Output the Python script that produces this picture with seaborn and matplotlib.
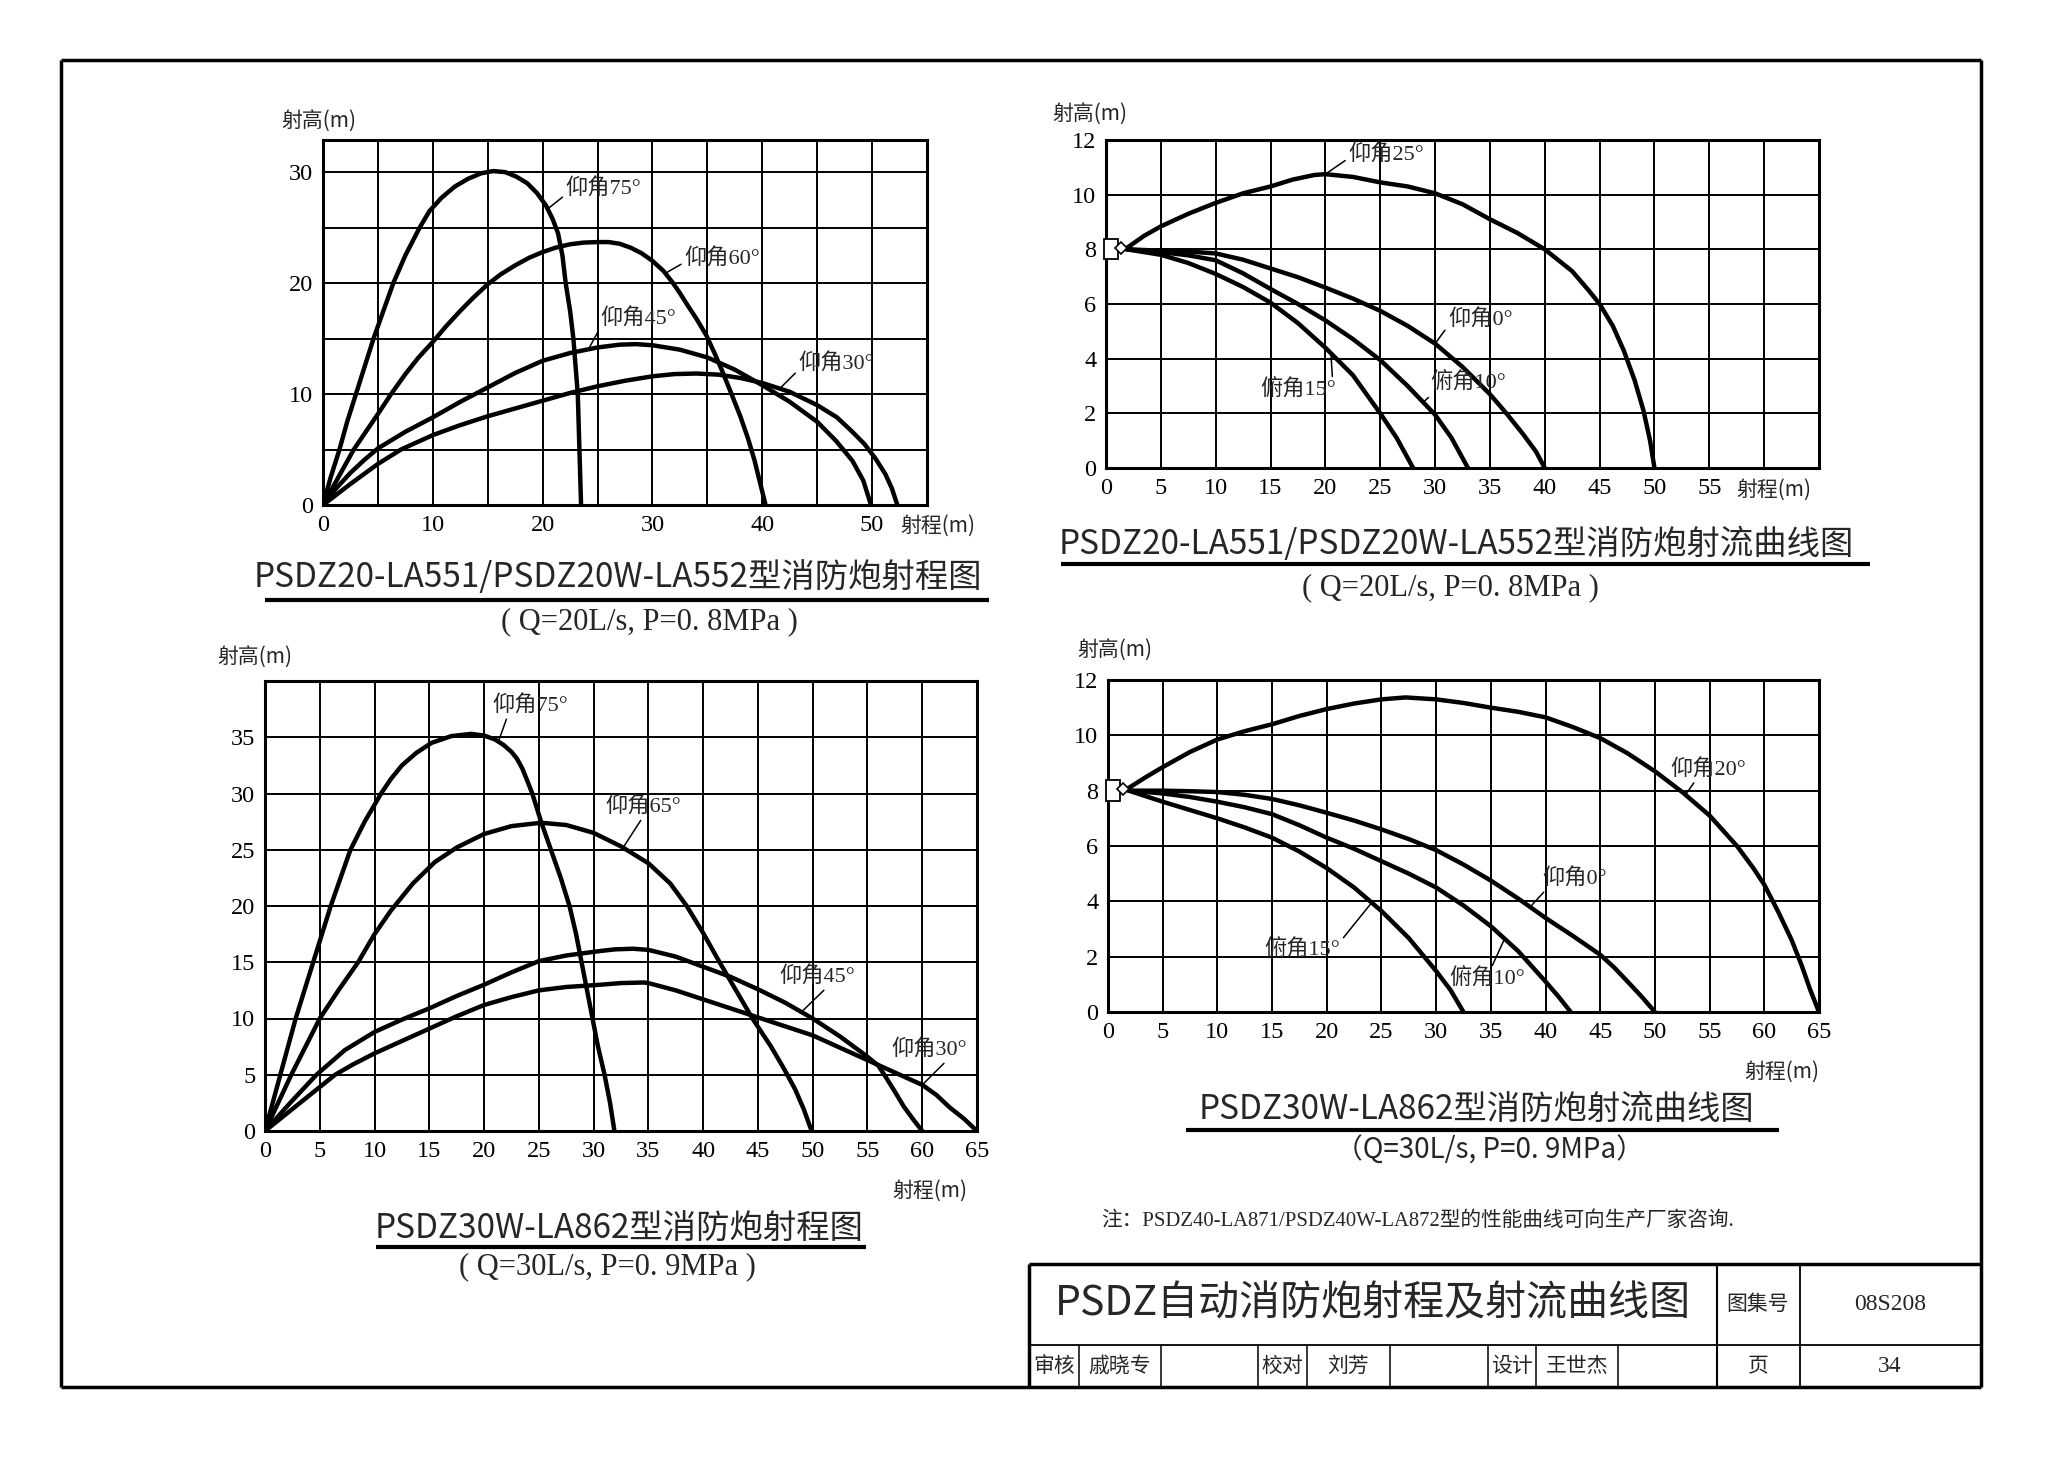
import pandas as pd
import matplotlib
matplotlib.use("Agg")
import matplotlib.pyplot as plt
import seaborn as sns
from matplotlib.lines import Line2D
from matplotlib.patches import Rectangle

# ---------------- values ----------------
# top left: PSDZ20 range chart (射程 x, 射高 y)
tl_names = ["仰角75°", "仰角60°", "仰角45°", "仰角30°"]
tl_75_x = [0, 0.7, 1.5, 2.2, 3.0, 3.8, 4.6, 5.5, 6.4, 7.5, 8.8, 9.7, 10.8, 12.0, 13.2, 14.4, 15.5, 16.6,
           17.6, 18.6, 19.5, 20.3, 20.9, 21.4, 21.8, 22.1, 22.5, 22.8, 23.0, 23.2, 23.35, 23.5]
tl_75_y = [0, 2.5, 5, 7.5, 10, 12.5, 15, 17.5, 20, 22.5, 25, 26.5, 27.7, 28.7, 29.4, 29.9, 30.1, 30.0,
           29.6, 29.0, 28.1, 27.0, 25.8, 24.5, 22.5, 20, 17.5, 15, 12.5, 10, 5, 0]
tl_60_x = [0, 1.4, 2.8, 3.9, 5, 6.2, 7.5, 8.7, 10, 11.2, 12.5, 13.7, 15, 16.2, 17.5, 18.8, 20, 21.2, 22.5,
           23.7, 25, 26, 27, 28, 29, 30, 31, 31.8, 32.5, 33.2, 34, 34.9, 35.6, 36.3, 37.2, 38, 38.7, 39.3,
           39.8, 40.3]
tl_60_y = [0, 2.5, 5, 6.6, 8.2, 10, 11.8, 13.3, 14.7, 16.1, 17.5, 18.7, 19.9, 20.8, 21.6, 22.3, 22.8, 23.2,
           23.5, 23.65, 23.7, 23.7, 23.55, 23.2, 22.7, 22.0, 21.1, 20.1, 19.1, 18.0, 16.8, 15.3, 13.8, 12.2,
           10, 8, 6, 4, 2, 0]
tl_45_x = [0, 1.2, 2.5, 3.8, 5, 7.5, 10, 12.5, 15, 17.5, 20, 22.5, 25, 27, 28.5, 30, 32.5, 35, 37.5, 40,
           42.5, 45, 46.7, 48.2, 49.2, 49.9]
tl_45_y = [0, 1.5, 2.9, 4.1, 5.1, 6.6, 7.9, 9.3, 10.6, 11.9, 13.0, 13.7, 14.2, 14.45, 14.5, 14.4, 14.0,
           13.3, 12.2, 10.8, 9.3, 7.5, 5.8, 4.0, 2.2, 0]
tl_30_x = [0, 2.5, 5, 7.1, 10, 12.5, 15, 17.5, 20, 22.5, 25, 27.5, 30, 32, 34, 36, 38, 40, 42.5, 45, 46.8,
           48.2, 49.3, 50.3, 51.2, 51.8, 52.3]
tl_30_y = [0, 1.9, 3.7, 5, 6.3, 7.2, 8.0, 8.7, 9.4, 10.1, 10.7, 11.2, 11.6, 11.8, 11.85, 11.75, 11.45,
           11.0, 10.2, 9.0, 7.9, 6.6, 5.5, 4.2, 2.8, 1.5, 0]

# top right: PSDZ20 jet chart
tr_names = ["仰角25°", "仰角0°", "俯角10°", "俯角15°"]
tr_25_x = [1.9, 3.5, 5, 7.5, 10, 12.5, 15, 17, 19, 20, 22.5, 25, 27.5, 30, 32.5, 35, 37.5, 40, 42.5, 44,
           45, 46.2, 47.2, 48.2, 49, 49.6, 50]
tr_25_y = [8.05, 8.5, 8.84, 9.3, 9.7, 10.05, 10.3, 10.55, 10.72, 10.75, 10.65, 10.45, 10.3, 10.05, 9.65,
           9.1, 8.6, 8.0, 7.2, 6.5, 6.0, 5.2, 4.3, 3.2, 2.1, 1.0, 0]
tr_0_x = [1.9, 5, 7.5, 10, 12.5, 15, 17.5, 20, 22.5, 25, 27.5, 30, 32.5, 35, 36.5, 38, 39.2, 40]
tr_0_y = [8, 7.95, 7.92, 7.85, 7.62, 7.3, 6.98, 6.6, 6.2, 5.75, 5.2, 4.55, 3.7, 2.7, 2.0, 1.25, 0.6, 0]
tr_10_x = [1.9, 5, 7.5, 10, 12.5, 15, 17.5, 20, 22.5, 25, 27.5, 30, 31.5, 33]
tr_10_y = [8, 7.9, 7.78, 7.6, 7.12, 6.55, 6.0, 5.4, 4.72, 3.95, 3.0, 1.95, 1.1, 0]
tr_15_x = [1.9, 5, 7.5, 10, 12.5, 15, 17.5, 20, 22.5, 25, 26.5, 28]
tr_15_y = [8, 7.8, 7.5, 7.1, 6.62, 6.05, 5.3, 4.4, 3.4, 2.0, 1.1, 0]

# bottom left: PSDZ30W range chart
bl_names = ["仰角75°", "仰角65°", "仰角45°", "仰角30°"]
bl_75_x = [0, 0.7, 1.4, 2.1, 2.8, 3.6, 4.4, 5.2, 6.0, 6.9, 7.8, 9.1, 10.6, 11.5, 12.5, 13.8, 15.2, 17.0,
           18.8, 20.0, 21.0, 21.8, 22.5, 23.0, 23.5, 24.0, 24.4, 25.2, 26.1, 27.0, 27.8, 28.4, 28.9, 29.4,
           29.9, 30.4, 31.0, 31.5, 31.9]
bl_75_y = [0, 2.5, 5, 7.5, 10, 12.5, 15, 17.5, 20, 22.5, 25, 27.5, 30, 31.3, 32.5, 33.6, 34.5, 35.1, 35.3,
           35.15, 34.8, 34.3, 33.7, 33.1, 32.2, 31, 30, 27.5, 25, 22.5, 20, 17.5, 15, 12.5, 10, 7.5, 5,
           2.5, 0]
bl_65_x = [0, 1.2, 2.4, 3.7, 5, 6.7, 8.5, 10, 11.5, 13.5, 15.5, 17.5, 20, 22.5, 25.2, 27.5, 30, 32.5, 35,
           37, 38.5, 40, 41.5, 43, 44.5, 46.2, 47.4, 48.4, 49.2, 49.9]
bl_65_y = [0, 2.5, 5, 7.5, 10, 12.5, 15, 17.5, 19.6, 22, 23.9, 25.2, 26.4, 27.1, 27.4, 27.2, 26.5, 25.3,
           23.8, 22, 20, 17.6, 15, 12.5, 10, 7.5, 5.5, 3.7, 1.9, 0]
bl_45_x = [0, 2.3, 4.7, 7.3, 10, 12.5, 15, 17.5, 20, 22.5, 25, 27.5, 30.6, 32, 33.6, 35, 37.5, 40, 42.5,
           45, 47.5, 50, 52.5, 55, 56, 56.8, 57.5, 58.3, 59.2, 60]
bl_45_y = [0, 2.5, 5, 7.2, 8.8, 9.9, 10.9, 12.0, 13.0, 14.1, 15.1, 15.6, 16.0, 16.15, 16.2, 16.1, 15.5,
           14.6, 13.7, 12.6, 11.4, 10.0, 8.4, 6.6, 5.8, 4.6, 3.5, 2.2, 1.0, 0]
bl_30_x = [0, 3.2, 6.4, 8, 10, 12.5, 15, 17.5, 20, 22.5, 25, 27.5, 30.6, 32.5, 34.6, 35, 37.5, 40, 42.5,
           45, 47.5, 50, 52.5, 55, 57.5, 60, 61.3, 62.5, 63.8, 65]
bl_30_y = [0, 2.5, 5, 5.9, 6.9, 8.0, 9.1, 10.2, 11.2, 11.9, 12.5, 12.8, 13.0, 13.15, 13.2, 13.15, 12.5,
           11.7, 10.9, 10.1, 9.3, 8.5, 7.4, 6.3, 5.2, 4.1, 3.2, 2.1, 1.1, 0]

# bottom right: PSDZ30W jet chart
br_names = ["仰角20°", "仰角0°", "俯角10°", "俯角15°"]
br_20_x = [1.9, 3.5, 5, 7.5, 10, 12.5, 15, 17.5, 20, 22.5, 25, 27.2, 30, 32.5, 35, 37.5, 40, 42.5, 45,
           47.5, 50, 52.5, 55, 57.5, 59, 60, 61.3, 62.5, 63.4, 64.2, 65]
br_20_y = [8.1, 8.5, 8.85, 9.4, 9.85, 10.15, 10.4, 10.7, 10.95, 11.15, 11.3, 11.37, 11.3, 11.17, 11.0,
           10.85, 10.65, 10.3, 9.9, 9.35, 8.7, 7.95, 7.1, 6.0, 5.2, 4.6, 3.6, 2.6, 1.7, 0.8, 0]
br_0_x = [1.9, 5, 7.5, 10, 12.5, 15, 17.5, 20, 22.5, 25, 27.5, 30, 32.5, 35, 37.5, 40, 42.5, 45, 46.3,
          47.5, 48.8, 50]
br_0_y = [8, 8, 7.98, 7.95, 7.85, 7.7, 7.47, 7.2, 6.92, 6.6, 6.25, 5.85, 5.33, 4.75, 4.1, 3.4, 2.75,
          2.07, 1.6, 1.1, 0.55, 0]
br_10_x = [1.9, 5, 7.5, 10, 12.5, 15, 17.5, 20, 22.5, 25, 27.5, 30, 32.5, 35, 37.5, 40, 41.2, 42.3]
br_10_y = [8, 7.9, 7.77, 7.6, 7.4, 7.15, 6.75, 6.3, 5.9, 5.45, 5.0, 4.5, 3.85, 3.1, 2.2, 1.1, 0.55, 0]
br_15_x = [1.9, 5, 7.5, 10, 12.5, 15, 17.5, 20, 22.5, 25, 27.5, 30, 31.3, 32.5]
br_15_y = [8, 7.6, 7.3, 7.0, 6.67, 6.3, 5.8, 5.2, 4.5, 3.65, 2.67, 1.48, 0.8, 0]

# curve labels: text lower-left corner, point on the curve
tl_text_xy = [(22.1, 27.6), (32.9, 21.3), (25.3, 15.9), (43.3, 11.8)]
tl_tip_xy = [(20.6, 26.8), (31.2, 20.9), (24.2, 14.1), (41.6, 10.5)]
tr_text_xy = [(22.1, 11.1), (31.2, 5.05), (29.6, 2.7), (14.1, 2.45)]
tr_tip_xy = [(20.0, 10.75), (30.0, 4.55), (28.9, 2.4), (20.5, 4.2)]
bl_text_xy = [(20.8, 36.9), (31.1, 27.9), (47.0, 12.8), (57.2, 6.3)]
bl_tip_xy = [(21.3, 34.6), (32.7, 25.2), (49.0, 10.6), (60.0, 4.1)]
br_text_xy = [(51.4, 8.4), (39.7, 4.45), (31.2, 0.8), (14.3, 1.85)]
br_tip_xy = [(52.8, 7.85), (38.6, 3.8), (36.2, 2.6), (24.1, 3.95)]

nozzle_x, nozzle_y = 1.4, 8.05

tl_title = "PSDZ20-LA551/PSDZ20W-LA552型消防炮射程图"
tr_title = "PSDZ20-LA551/PSDZ20W-LA552型消防炮射流曲线图"
bl_title = "PSDZ30W-LA862型消防炮射程图"
br_title = "PSDZ30W-LA862型消防炮射流曲线图"
sub_20 = "( Q=20L/s, P=0. 8MPa )"
sub_30 = "( Q=30L/s, P=0. 9MPa )"
sub_30b = "（Q=30L/s, P=0. 9MPa）"
note = "注：PSDZ40-LA871/PSDZ40W-LA872型的性能曲线可向生产厂家咨询."


def curves(names, xs, ys):
    parts = [pd.DataFrame({"x": x, "y": y, "curve": n}) for n, x, y in zip(names, xs, ys)]
    return pd.concat(parts, ignore_index=True)


tl_df = curves(tl_names, [tl_75_x, tl_60_x, tl_45_x, tl_30_x], [tl_75_y, tl_60_y, tl_45_y, tl_30_y])
tr_df = curves(tr_names, [tr_25_x, tr_0_x, tr_10_x, tr_15_x], [tr_25_y, tr_0_y, tr_10_y, tr_15_y])
bl_df = curves(bl_names, [bl_75_x, bl_65_x, bl_45_x, bl_30_x], [bl_75_y, bl_65_y, bl_45_y, bl_30_y])
br_df = curves(br_names, [br_20_x, br_0_x, br_10_x, br_15_x], [br_20_y, br_0_y, br_10_y, br_15_y])

# ---------------- figure ----------------
sns.set_theme(style="white")
plt.rcParams["font.family"] = ["Liberation Serif", "Noto Sans CJK SC", "DejaVu Sans"]
CJK = ["Noto Sans CJK SC", "DejaVu Sans"]
MIX = ["Liberation Serif", "Noto Sans CJK SC", "DejaVu Sans"]

W, H = 2048, 1463
fig = plt.figure(figsize=(W / 100, H / 100), dpi=100, facecolor="white")


def fx(x):
    return x / W


def fy(y):
    return 1 - y / H


def line(x0, y0, x1, y1, lw=1.2):
    fig.add_artist(Line2D([fx(x0), fx(x1)], [fy(y0), fy(y1)], transform=fig.transFigure,
                          color="black", lw=lw, solid_capstyle="butt"))


def add_ax(l, t, r, b):
    return fig.add_axes([fx(l), fy(b), (r - l) / W, (b - t) / H])


def style(ax, xmax, ymax, xmaj, xmin, ymaj, ymin):
    ax.set_xlim(0, xmax)
    ax.set_ylim(0, ymax)
    ax.set_xticks(xmaj)
    ax.set_xticks(xmin, minor=True)
    ax.set_yticks(ymaj)
    ax.set_yticks(ymin, minor=True)
    ax.set_xticklabels([str(v) for v in xmaj])
    ax.set_yticklabels([str(v) for v in ymaj])
    ax.grid(True, which="both", color="black", lw=1.4)
    ax.set_axisbelow(True)
    ax.tick_params(which="both", length=0, labelsize=17.5, pad=7, colors="black")
    for s in ax.spines.values():
        s.set_linewidth(2.2)
        s.set_color("black")
    ax.set_xlabel("")
    ax.set_ylabel("")
    ax.set_facecolor("white")


def draw(ax, df):
    sns.lineplot(data=df, x="x", y="y", units="curve", estimator=None, sort=False,
                 color="black", lw=3.2, legend=False, ax=ax,
                 solid_joinstyle="round", solid_capstyle="round")


def labels(ax, names, text_xy, tip_xy, rel):
    for n, t, p, r in zip(names, text_xy, tip_xy, rel):
        ax.annotate(n, xy=p, xytext=t, ha="left", va="bottom", fontsize=16, family=MIX,
                    arrowprops=dict(arrowstyle="-", lw=1.1, color="black",
                                    shrinkA=0, shrinkB=0, relpos=r))


def axis_names(ax, ydx, ydy, xx, xdy):
    ax.annotate("射高(m)", xy=(0, 1), xycoords="axes fraction", xytext=(ydx, ydy),
                textcoords="offset points", ha="left", va="center", fontsize=15, family=CJK)
    ax.annotate("射程(m)", xy=(xx, 0), xycoords=ax.get_xaxis_transform(), xytext=(0, xdy),
                textcoords="offset points", ha="left", va="center", fontsize=15, family=CJK,
                annotation_clip=False)


def nozzle(ax):
    ax.add_patch(Rectangle((nozzle_x - 1.6, nozzle_y - 0.42), 1.3, 0.75, facecolor="white",
                           edgecolor="black", lw=1.3, clip_on=False, zorder=6))
    ax.plot([nozzle_x], [nozzle_y], marker="D", ms=6, mfc="white", mec="black", mew=1.2,
            clip_on=False, zorder=7)


# top left
ax1 = add_ax(323, 140, 927, 505)
draw(ax1, tl_df)
style(ax1, 55, 32.9, list(range(0, 51, 10)), list(range(5, 56, 10)), [0, 10, 20, 30], [5, 15, 25])
labels(ax1, tl_names, tl_text_xy, tl_tip_xy, [(0, 0.2), (0, 0.3), (0, 0.1), (0, 0.2)])
axis_names(ax1, -30, 13, 52.6, -15)

# top right
ax2 = add_ax(1106, 140, 1819, 468)
draw(ax2, tr_df)
style(ax2, 65, 12, list(range(0, 56, 5)), [60], list(range(0, 13, 2)), [])
labels(ax2, tr_names, tr_text_xy, tr_tip_xy, [(0, 0.3), (0, 0.2), (0.05, 0.1), (0.95, 0.95)])
axis_names(ax2, -39, 18, 57.5, -16)
nozzle(ax2)

# bottom left
ax3 = add_ax(265, 681, 977, 1131)
draw(ax3, bl_df)
style(ax3, 65, 40, list(range(0, 66, 5)), [], list(range(0, 36, 5)), [])
labels(ax3, bl_names, bl_text_xy, bl_tip_xy, [(0.2, 0.05), (0.5, 0.05), (0.64, 0.05), (0.75, 0.05)])
axis_names(ax3, -34, 17, 57.3, -43)

# bottom right
ax4 = add_ax(1108, 680, 1819, 1012)
draw(ax4, br_df)
style(ax4, 65, 12, list(range(0, 66, 5)), [], list(range(0, 13, 2)), [])
labels(ax4, br_names, br_text_xy, br_tip_xy, [(0.35, 0.05), (0.1, 0.1), (0.55, 1.0), (1.0, 0.9)])
axis_names(ax4, -22, 21, 58.2, -43)
nozzle(ax4)

# chart titles
fig.text(fx(618), fy(577), tl_title, ha="center", va="center", fontsize=24, family=CJK)
line(265, 600, 989, 600, 3)
fig.text(fx(649), fy(622), sub_20, ha="center", va="center", fontsize=22, family=MIX)

fig.text(fx(1456), fy(545), tr_title, ha="center", va="center", fontsize=24, family=CJK)
line(1061, 564, 1870, 564, 3)
fig.text(fx(1450), fy(588), sub_20, ha="center", va="center", fontsize=22, family=MIX)

fig.text(fx(619), fy(1228), bl_title, ha="center", va="center", fontsize=24, family=CJK)
line(376, 1247, 866, 1247, 3)
fig.text(fx(607), fy(1267), sub_30, ha="center", va="center", fontsize=22, family=MIX)

fig.text(fx(1476), fy(1109), br_title, ha="center", va="center", fontsize=24, family=CJK)
line(1186, 1130, 1779, 1130, 3)
fig.text(fx(1489), fy(1151), sub_30b, ha="center", va="center", fontsize=20, family=CJK)

fig.text(fx(1101), fy(1221), note, ha="left", va="center", fontsize=14.9, family=MIX)

# page frame
line(61, 60, 1981, 60, 2.5)
line(61, 1387, 1981, 1387, 2.5)
line(61, 60, 61, 1387, 2.5)
line(1981, 60, 1981, 1387, 2.5)

# title block
line(1029, 1264, 1981, 1264, 2.5)
line(1029, 1264, 1029, 1387, 2.5)
line(1029, 1345, 1981, 1345, 1.3)
line(1717, 1264, 1717, 1387, 1.5)
line(1800, 1264, 1800, 1387, 1.3)
for xc in [1079, 1161, 1258, 1307, 1390, 1488, 1536, 1618]:
    line(xc, 1345, xc, 1387, 1.1)

fig.text(fx(1373), fy(1304), "PSDZ自动消防炮射程及射流曲线图", ha="center", va="center",
         fontsize=29.5, family=CJK)
fig.text(fx(1758), fy(1304), "图集号", ha="center", va="center", fontsize=15, family=CJK)
fig.text(fx(1890), fy(1304), "08S208", ha="center", va="center", fontsize=17, family=MIX)
row = [(1054, "审核"), (1120, "戚晓专"), (1282, "校对"), (1348, "刘芳"),
       (1512, "设计"), (1577, "王世杰"), (1758, "页")]
for xc, t in row:
    fig.text(fx(xc), fy(1366), t, ha="center", va="center", fontsize=15, family=CJK)
fig.text(fx(1890), fy(1366), "34", ha="center", va="center", fontsize=17, family=MIX)

fig.savefig("out.png", dpi=100, facecolor="white")
